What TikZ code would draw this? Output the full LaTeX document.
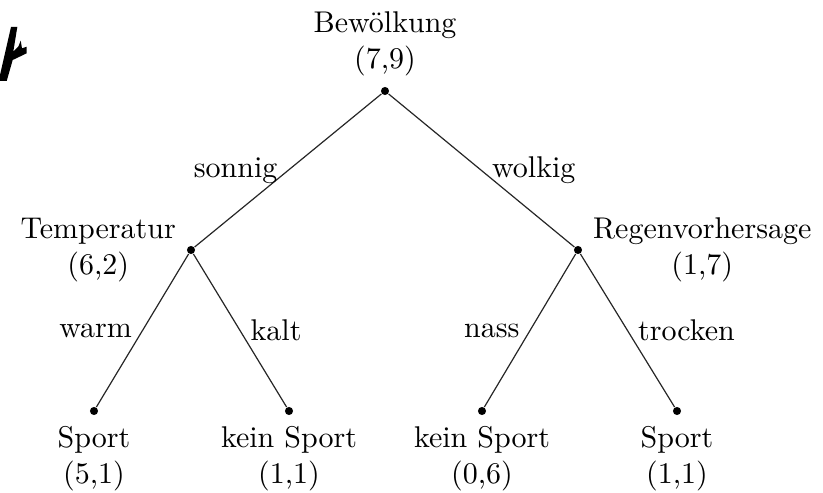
\documentclass[tikz,border=0pt]{standalone}
\usepackage{fontspec}
\usepackage{tikz}
\usetikzlibrary{positioning}
\tikzstyle{dot} = [circle, fill=black, inner sep=0pt, minimum size=2.7pt]
\tikzstyle{attr} = [align=center, inner sep=3.3pt]
\tikzstyle{branch} = [draw=black!85, line width=0.4pt]

\begin{document}
\begin{tikzpicture}[x=0.3333pt, y=-0.3333pt, node distance=0pt]
    \useasboundingbox (0,0) rectangle (823,493);

    % Knoten
    \node[dot] (wolken) at (385,91) {};
    \node[dot] (temp) at (191,250) {};
    \node[dot] (regen) at (578,250) {};
    \node[dot] (warmleaf) at (94,411) {};
    \node[dot] (kaltleaf) at (289,411) {};
    \node[dot] (nassleaf) at (482,411) {};
    \node[dot] (trockenleaf) at (677,411) {};

    % Beschriftungen
    \node[attr, above=of wolken] (wolkenlabel) {Bewölkung\\(7,9)};
    \node[attr, left=of temp] (templabel) {Temperatur\\(6,2)};
    \node[attr, right=of regen] (regenlabel) {Regenvorhersage\\(1,7)};
    \node[attr, below=of warmleaf] (warmlabel) {Sport\\(5,1)};
    \node[attr, below=of kaltleaf] (kaltlabel) {kein Sport\\(1,1)};
    \node[attr, below=of nassleaf] (nasslabel) {kein Sport\\(0,6)};
    \node[attr, below=of trockenleaf] (trockenlabel) {Sport\\(1,1)};

    % Kanten
    \draw[branch] (wolken) -- node[left] (sonnig) {sonnig} (temp);
    \draw[branch] (wolken) -- node[right] (wolkig) {wolkig} (regen);
    \draw[branch] (temp) -- node[left] (warm) {warm} (warmleaf);
    \draw[branch] (temp) -- node[right] (kalt) {kalt} (kaltleaf);
    \draw[branch] (regen) -- node[left] (nass) {nass} (nassleaf);
    \draw[branch] (regen) -- node[right] (trocken) {trocken} (trockenleaf);

    % Rest am Rand
    \fill (11,27) -- (17.3,27) -- (13.3,51.7) -- (18.3,46.7) -- (20.7,40.7)
        -- (22,48.3) -- (26.7,46.7) -- (26.7,53.3) -- (12.7,60) -- (6.7,81)
        -- (0,81) -- (0,75) -- cycle;
\end{tikzpicture}
\end{document}
